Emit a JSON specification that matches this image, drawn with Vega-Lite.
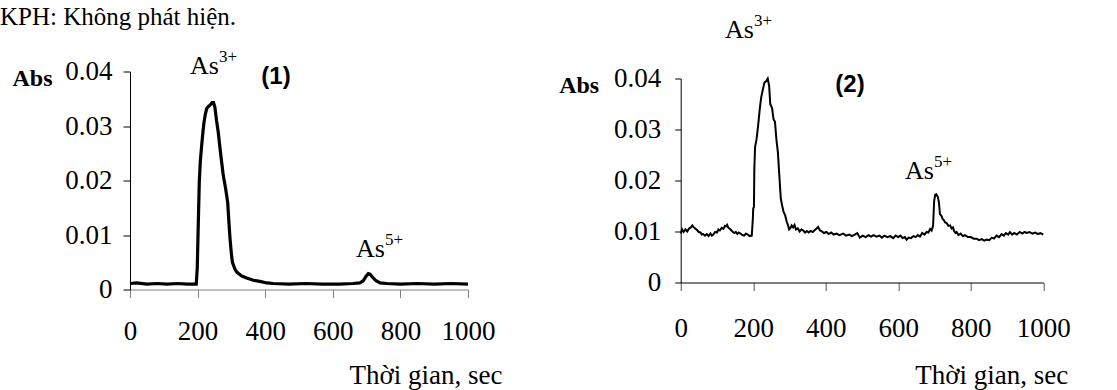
{
  "$schema": "https://vega.github.io/schema/vega-lite/v6.json",
  "autosize": {"type": "none"},
  "padding": {"left": 130, "top": 71.5, "right": 987, "bottom": 318.5},
  "background": "white",
  "config": {
    "view": {"stroke": null},
    "font": "Liberation Serif",
    "axis": {"labelFont": "Liberation Serif", "titleFont": "Liberation Serif"},
    "style": {"guide-label": {"font": "Liberation Serif"}, "guide-title": {"font": "Liberation Serif"}}
  },
  "bounds": "flush",
  "center": true,
  "spacing": 212.7,
  "datasets": {
    "s1": [
      {"t": 0, "v": 0.0011}, {"t": 20, "v": 0.0012}, {"t": 50, "v": 0.001}, {"t": 80, "v": 0.0011}, {"t": 110, "v": 0.001}, {"t": 140, "v": 0.0011}, {"t": 170, "v": 0.001}, {"t": 196, "v": 0.001},
      {"t": 199, "v": 0.004}, {"t": 202, "v": 0.012}, {"t": 205, "v": 0.0197}, {"t": 208, "v": 0.0235}, {"t": 212, "v": 0.0264}, {"t": 216, "v": 0.029}, {"t": 219, "v": 0.0307}, {"t": 223, "v": 0.0322}, {"t": 227, "v": 0.0332}, {"t": 232, "v": 0.0336}, {"t": 238, "v": 0.0339}, {"t": 243, "v": 0.0343}, {"t": 247, "v": 0.0343}, {"t": 251, "v": 0.0335}, {"t": 256, "v": 0.031}, {"t": 261, "v": 0.0289}, {"t": 268, "v": 0.025}, {"t": 276, "v": 0.0209}, {"t": 283, "v": 0.0185}, {"t": 289, "v": 0.016}, {"t": 293, "v": 0.012}, {"t": 296, "v": 0.0093}, {"t": 300, "v": 0.0065}, {"t": 303, "v": 0.005}, {"t": 310, "v": 0.0038}, {"t": 316, "v": 0.0032}, {"t": 330, "v": 0.0025}, {"t": 345, "v": 0.0021}, {"t": 365, "v": 0.0017}, {"t": 384, "v": 0.0015}, {"t": 405, "v": 0.0012}, {"t": 424, "v": 0.0011},
      {"t": 470, "v": 0.001}, {"t": 520, "v": 0.0011}, {"t": 570, "v": 0.001}, {"t": 620, "v": 0.001}, {"t": 660, "v": 0.0011}, {"t": 680, "v": 0.0012}, {"t": 690, "v": 0.0016}, {"t": 698, "v": 0.0024}, {"t": 705, "v": 0.0029}, {"t": 710, "v": 0.0028}, {"t": 718, "v": 0.0022}, {"t": 728, "v": 0.0016}, {"t": 740, "v": 0.0012}, {"t": 760, "v": 0.0011}, {"t": 800, "v": 0.001}, {"t": 850, "v": 0.0011}, {"t": 900, "v": 0.001}, {"t": 950, "v": 0.0011}, {"t": 1000, "v": 0.001}
    ],
    "s2": [
      {"t": 0, "v": 0.0096}, {"t": 4, "v": 0.0104}, {"t": 8, "v": 0.0099}, {"t": 13, "v": 0.0104}, {"t": 18, "v": 0.01}, {"t": 23, "v": 0.0106}, {"t": 28, "v": 0.0108}, {"t": 32, "v": 0.0112}, {"t": 35, "v": 0.0109}, {"t": 40, "v": 0.0106}, {"t": 45, "v": 0.0103}, {"t": 50, "v": 0.0099}, {"t": 55, "v": 0.0098}, {"t": 58, "v": 0.0094}, {"t": 62, "v": 0.0095}, {"t": 67, "v": 0.0092}, {"t": 72, "v": 0.0095}, {"t": 77, "v": 0.0091}, {"t": 82, "v": 0.0096}, {"t": 86, "v": 0.0092}, {"t": 90, "v": 0.0094}, {"t": 95, "v": 0.0099}, {"t": 100, "v": 0.0098}, {"t": 104, "v": 0.0104}, {"t": 108, "v": 0.0102}, {"t": 113, "v": 0.0107}, {"t": 118, "v": 0.0105}, {"t": 122, "v": 0.0111}, {"t": 125, "v": 0.011}, {"t": 128, "v": 0.0113}, {"t": 131, "v": 0.0108}, {"t": 136, "v": 0.0105}, {"t": 140, "v": 0.0102}, {"t": 144, "v": 0.0099}, {"t": 148, "v": 0.0097}, {"t": 152, "v": 0.0099}, {"t": 156, "v": 0.0095}, {"t": 160, "v": 0.0098}, {"t": 165, "v": 0.0096}, {"t": 170, "v": 0.0093}, {"t": 175, "v": 0.0092}, {"t": 180, "v": 0.0096}, {"t": 185, "v": 0.0094}, {"t": 190, "v": 0.0091}, {"t": 196, "v": 0.0092},
      {"t": 199, "v": 0.0125}, {"t": 200, "v": 0.0145}, {"t": 202, "v": 0.0148}, {"t": 203, "v": 0.022}, {"t": 205, "v": 0.0265}, {"t": 209, "v": 0.028}, {"t": 213, "v": 0.0304}, {"t": 218, "v": 0.034}, {"t": 222, "v": 0.0363}, {"t": 227, "v": 0.038}, {"t": 231, "v": 0.0392}, {"t": 236, "v": 0.0395}, {"t": 240, "v": 0.04}, {"t": 244, "v": 0.0385}, {"t": 247, "v": 0.035}, {"t": 252, "v": 0.0342}, {"t": 256, "v": 0.032}, {"t": 260, "v": 0.0315}, {"t": 264, "v": 0.028}, {"t": 268, "v": 0.0255}, {"t": 272, "v": 0.021}, {"t": 276, "v": 0.0165}, {"t": 280, "v": 0.015}, {"t": 284, "v": 0.0138}, {"t": 288, "v": 0.0132}, {"t": 292, "v": 0.012}, {"t": 296, "v": 0.0112}, {"t": 299, "v": 0.0104}, {"t": 302, "v": 0.0106},
      {"t": 306, "v": 0.0112}, {"t": 310, "v": 0.0108}, {"t": 314, "v": 0.0113}, {"t": 318, "v": 0.0104}, {"t": 323, "v": 0.0106}, {"t": 328, "v": 0.01}, {"t": 333, "v": 0.0104}, {"t": 338, "v": 0.0102}, {"t": 343, "v": 0.0098}, {"t": 348, "v": 0.0101}, {"t": 353, "v": 0.0098}, {"t": 358, "v": 0.0101}, {"t": 364, "v": 0.0099}, {"t": 370, "v": 0.0103}, {"t": 375, "v": 0.0106}, {"t": 379, "v": 0.0109}, {"t": 384, "v": 0.0102}, {"t": 388, "v": 0.0101}, {"t": 395, "v": 0.0097}, {"t": 402, "v": 0.0099}, {"t": 408, "v": 0.0095}, {"t": 415, "v": 0.0098}, {"t": 422, "v": 0.0094}, {"t": 430, "v": 0.0096}, {"t": 438, "v": 0.0093}, {"t": 448, "v": 0.0096}, {"t": 456, "v": 0.0092}, {"t": 465, "v": 0.0094}, {"t": 472, "v": 0.0091}, {"t": 480, "v": 0.0094}, {"t": 487, "v": 0.0097}, {"t": 494, "v": 0.0088}, {"t": 502, "v": 0.0092}, {"t": 510, "v": 0.0089}, {"t": 518, "v": 0.0093}, {"t": 525, "v": 0.009}, {"t": 532, "v": 0.0093}, {"t": 540, "v": 0.009}, {"t": 548, "v": 0.0092}, {"t": 555, "v": 0.0088}, {"t": 562, "v": 0.0092}, {"t": 570, "v": 0.0089}, {"t": 578, "v": 0.0091}, {"t": 586, "v": 0.0087}, {"t": 593, "v": 0.0092}, {"t": 600, "v": 0.0089}, {"t": 606, "v": 0.0092}, {"t": 612, "v": 0.0087}, {"t": 618, "v": 0.0089}, {"t": 623, "v": 0.0084}, {"t": 629, "v": 0.0088}, {"t": 635, "v": 0.0087}, {"t": 642, "v": 0.0091}, {"t": 648, "v": 0.0089}, {"t": 654, "v": 0.0093}, {"t": 660, "v": 0.009}, {"t": 666, "v": 0.0097}, {"t": 672, "v": 0.0094}, {"t": 678, "v": 0.0099}, {"t": 683, "v": 0.0098}, {"t": 688, "v": 0.0105}, {"t": 692, "v": 0.0102}, {"t": 696, "v": 0.0111},
      {"t": 699, "v": 0.016}, {"t": 702, "v": 0.0172}, {"t": 705, "v": 0.0173}, {"t": 709, "v": 0.0168}, {"t": 712, "v": 0.0158}, {"t": 715, "v": 0.0134}, {"t": 719, "v": 0.0131}, {"t": 722, "v": 0.0125}, {"t": 726, "v": 0.0122}, {"t": 729, "v": 0.0118}, {"t": 734, "v": 0.0116}, {"t": 738, "v": 0.0111}, {"t": 743, "v": 0.0112}, {"t": 747, "v": 0.0106}, {"t": 751, "v": 0.0108}, {"t": 754, "v": 0.0101}, {"t": 758, "v": 0.0097}, {"t": 761, "v": 0.0099}, {"t": 766, "v": 0.0093}, {"t": 772, "v": 0.0096}, {"t": 778, "v": 0.0091}, {"t": 784, "v": 0.0093}, {"t": 792, "v": 0.0089}, {"t": 800, "v": 0.0089}, {"t": 808, "v": 0.0086}, {"t": 816, "v": 0.0086}, {"t": 823, "v": 0.0083}, {"t": 830, "v": 0.0085}, {"t": 837, "v": 0.0082}, {"t": 844, "v": 0.0084}, {"t": 851, "v": 0.0083}, {"t": 858, "v": 0.0088}, {"t": 864, "v": 0.0086}, {"t": 871, "v": 0.0092}, {"t": 878, "v": 0.0089}, {"t": 885, "v": 0.0095}, {"t": 891, "v": 0.0092}, {"t": 897, "v": 0.0097}, {"t": 903, "v": 0.0094}, {"t": 908, "v": 0.0099}, {"t": 914, "v": 0.0094}, {"t": 920, "v": 0.0097}, {"t": 927, "v": 0.0094}, {"t": 935, "v": 0.0099}, {"t": 942, "v": 0.0096}, {"t": 948, "v": 0.0099}, {"t": 954, "v": 0.0097}, {"t": 962, "v": 0.0099}, {"t": 970, "v": 0.0096}, {"t": 978, "v": 0.0098}, {"t": 985, "v": 0.0095}, {"t": 992, "v": 0.0097}, {"t": 1000, "v": 0.0094}
    ],
    "a1": [
      {"t": 177.5, "v": 0.0396, "base": "As", "sup": "3+"},
      {"t": 668.6, "v": 0.0059, "base": "As", "sup": "5+"}
    ],
    "a2": [
      {"t": 122, "v": 0.048, "base": "As", "sup": "3+"},
      {"t": 618.6, "v": 0.0203, "base": "As", "sup": "5+"}
    ],
    "n1": [
      {"t": 432, "v": 0.0389, "label": "(1)"}
    ],
    "n2": [
      {"t": 467, "v": 0.0388, "label": "(2)"}
    ],
    "note": [
      {"t": -384.6, "v": 0.0485, "label": "KPH: Không phát hiện."}
    ]
  },
  "hconcat": [
    {
      "width": 338,
      "height": 218,
      "encoding": {
        "x": {"field": "t", "type": "quantitative", "scale": {"domain": [0, 1000]},
          "axis": {"values": [0, 200, 400, 600, 800, 1000], "format": "d", "grid": false, "domainColor": "#808080", "tickColor": "#808080", "tickSize": 8, "labelFontSize": 27, "labelFont": "Times New Roman", "labelColor": "black", "labelPadding": 21, "labelFlush": false,
            "title": "Thời gian, sec", "titleFont": "Liberation Serif", "titleFontWeight": "normal", "titleFontSize": 27, "titleColor": "black", "titleAlign": "right", "titleBaseline": "alphabetic", "titleX": 372, "titleY": 94}},
        "y": {"field": "v", "type": "quantitative", "scale": {"domain": [0, 0.04]},
          "axis": {"values": [0, 0.01, 0.02, 0.03, 0.04], "format": "~g", "grid": false, "domainColor": "black", "tickColor": "black", "tickSize": 7, "labelFontSize": 27, "labelFont": "Times New Roman", "labelColor": "black", "labelPadding": 11, "labelFlush": false,
            "title": "Abs", "titleFont": "Times New Roman", "titleFontWeight": "bold", "titleFontSize": 24, "titleColor": "black", "titleAngle": 0, "titleAlign": "center", "titleBaseline": "alphabetic", "titleX": -98, "titleY": 14}}
      },
      "layer": [
        {"data": {"name": "s1"}, "mark": {"type": "line", "color": "black", "strokeWidth": 3.2}},
        {"data": {"name": "a1"}, "mark": {"type": "text", "align": "left", "baseline": "alphabetic", "fontSize": 26, "font": "Liberation Serif", "color": "black"}, "encoding": {"text": {"field": "base"}}},
        {"data": {"name": "a1"}, "mark": {"type": "text", "align": "left", "baseline": "alphabetic", "fontSize": 17, "font": "Liberation Serif", "color": "black", "dx": 29, "dy": -12}, "encoding": {"text": {"field": "sup"}}},
        {"data": {"name": "n1"}, "mark": {"type": "text", "align": "center", "baseline": "middle", "fontSize": 24, "font": "Liberation Sans", "fontWeight": "bold", "color": "black"}, "encoding": {"text": {"field": "label"}}},
        {"data": {"name": "note"}, "mark": {"type": "text", "align": "left", "baseline": "alphabetic", "fontSize": 25, "font": "Liberation Serif", "color": "black"}, "encoding": {"text": {"field": "label"}}}
      ]
    },
    {
      "width": 362.6,
      "height": 204,
      "encoding": {
        "x": {"field": "t", "type": "quantitative", "scale": {"domain": [0, 1000]},
          "axis": {"values": [0, 200, 400, 600, 800, 1000], "format": "d", "grid": false, "domainColor": "black", "tickColor": "#555555", "tickSize": 8, "labelFontSize": 27, "labelFont": "Times New Roman", "labelColor": "black", "labelPadding": 25, "labelFlush": false,
            "title": "Thời gian, sec", "titleFont": "Liberation Serif", "titleFontWeight": "normal", "titleFontSize": 27, "titleColor": "black", "titleAlign": "right", "titleBaseline": "alphabetic", "titleX": 387, "titleY": 101}},
        "y": {"field": "v", "type": "quantitative", "scale": {"domain": [0, 0.04]},
          "axis": {"values": [0, 0.01, 0.02, 0.03, 0.04], "format": "~g", "grid": false, "domainColor": "black", "tickColor": "black", "tickSize": 6, "labelFontSize": 27, "labelFont": "Times New Roman", "labelColor": "black", "labelPadding": 14, "labelFlush": false,
            "title": "Abs", "titleFont": "Times New Roman", "titleFontWeight": "bold", "titleFontSize": 24, "titleColor": "black", "titleAngle": 0, "titleAlign": "center", "titleBaseline": "alphabetic", "titleX": -102, "titleY": 14}}
      },
      "layer": [
        {"data": {"name": "s2"}, "mark": {"type": "line", "color": "black", "strokeWidth": 2}},
        {"data": {"name": "a2"}, "mark": {"type": "text", "align": "left", "baseline": "alphabetic", "fontSize": 26, "font": "Liberation Serif", "color": "black"}, "encoding": {"text": {"field": "base"}}},
        {"data": {"name": "a2"}, "mark": {"type": "text", "align": "left", "baseline": "alphabetic", "fontSize": 17, "font": "Liberation Serif", "color": "black", "dx": 29, "dy": -12}, "encoding": {"text": {"field": "sup"}}},
        {"data": {"name": "n2"}, "mark": {"type": "text", "align": "center", "baseline": "middle", "fontSize": 24, "font": "Liberation Sans", "fontWeight": "bold", "color": "black"}, "encoding": {"text": {"field": "label"}}}
      ]
    }
  ]
}
